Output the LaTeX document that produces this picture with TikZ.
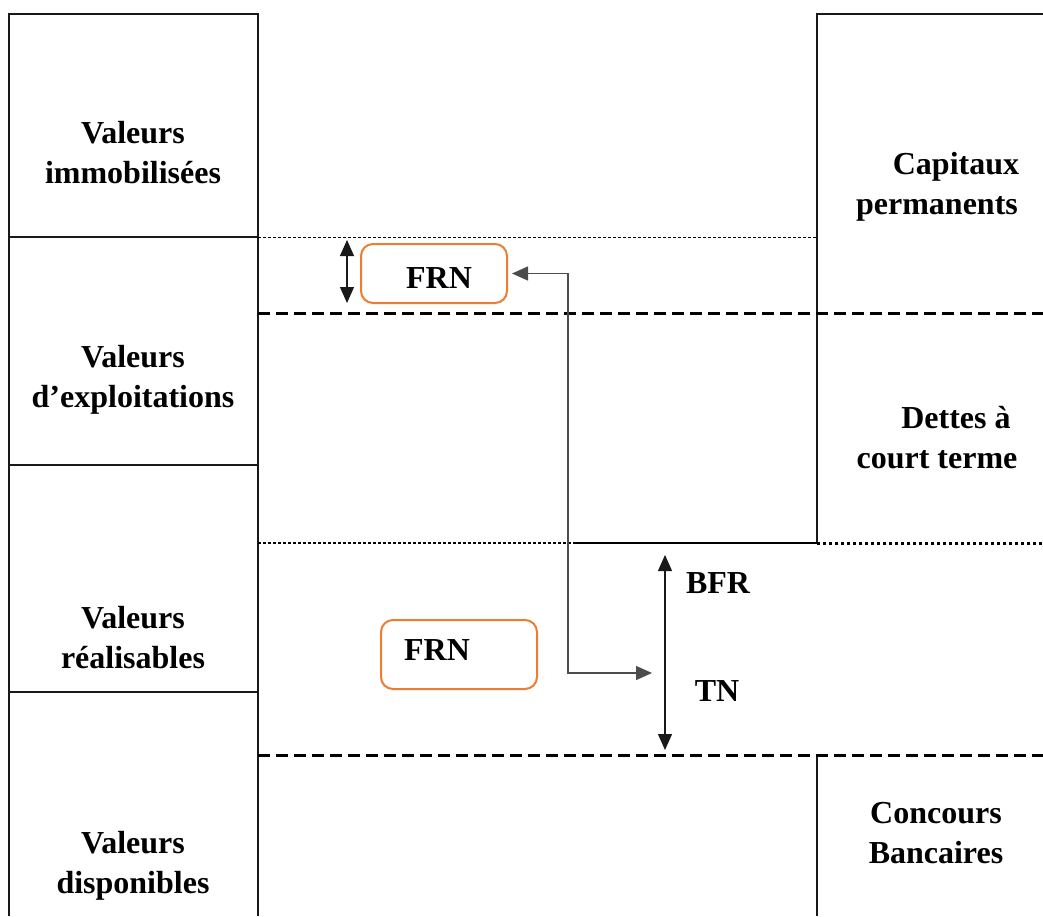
\documentclass[tikz,border=0pt]{standalone}
\usepackage{fontspec}
\setmainfont{Liberation Serif}
\usetikzlibrary{arrows.meta}
\definecolor{frnorange}{HTML}{ED7D31}

\begin{document}
\begin{tikzpicture}[x=0.5pt, y=-0.5pt,
    every node/.style={font=\bfseries\fontsize{16}{20}\selectfont, align=center},
    frame/.style={line width=1pt, black!90},
    thinsep/.style={line width=0.5pt, dash pattern=on 1.5pt off 1pt},
    bigsep/.style={line width=1.5pt, dash pattern=on 6pt off 3pt},
    dotsep/.style={line width=1.5pt, dash pattern=on 1.5pt off 1.5pt},
    frnbox/.style={draw=frnorange, line width=1pt, rounded corners=6pt, inner sep=0pt},
    dblarrow/.style={line width=0.6pt, black!90, {Triangle[length=8pt,width=7pt]}-{Triangle[length=8pt,width=7pt]}},
    link/.style={line width=0.6pt, black!70, {Triangle[length=8pt,width=7pt]}-{Triangle[length=8pt,width=7pt]}}]
    \useasboundingbox (0,0) rectangle (1043,916);

    % Actif (left column)
    \draw[frame] (9,916) -- (9,14) -- (258,14) -- (258,916);
    \draw[frame] (9,237) -- (258,237);
    \draw[frame] (9,465) -- (258,465);
    \draw[frame] (9,692) -- (258,692);

    % Passif (right column)
    \draw[frame] (1043,14) -- (817,14) -- (817,543);
    \draw[frame] (817,755) -- (817,916);

    % Separating lines
    \draw[thinsep] (258,237) -- (817,237);
    \draw[bigsep] (258,313) -- (1043,313);
    \draw[thinsep, line width=0.8pt] (258,543) -- (575,543);
    \draw[line width=1.2pt] (575,543) -- (817,543);
    \draw[dotsep] (817,543) -- (1043,543);
    \draw[bigsep] (258,755) -- (1043,755);

    % Labels of the left column
    \node (vi) at (133,153) {Valeurs\\immobilis\'ees};
    \node (ve) at (133,380) {Valeurs\\d’exploitations};
    \node (vr) at (133,638) {Valeurs\\r\'ealisables};
    \node (vd) at (133,866) {Valeurs\\disponibles};

    % Labels of the right column
    \node (cp) at (937,187) {\hspace*{19pt}Capitaux\\permanents};
    \node (dct) at (937,438) {\hspace*{19pt}Dettes \`a\\court terme};
    \node (cb) at (936,833) {Concours\\Bancaires};

    % FRN boxes
    \node[frnbox, minimum width=73pt, minimum height=29.5pt] (frnA) at (434,273.5) {};
    \node (frnAtxt) at (439,278) {FRN};
    \node[frnbox, minimum width=78pt, minimum height=34.5pt] (frnB) at (459,654.5) {};
    \node (frnBtxt) at (437,650) {FRN};

    % BFR and TN
    \node (bfr) at (718,583) {BFR};
    \node (tn) at (717,691) {TN};

    % Arrows
    \coordinate (frnTop) at (347,240);
    \coordinate (frnBot) at (347,303);
    \draw[dblarrow] (frnTop) -- (frnBot);
    \coordinate (bfrTop) at (665,555);
    \coordinate (tnBot) at (665,750);
    \draw[dblarrow] (bfrTop) -- (tnBot);
    \coordinate (tnIn) at (652,673);
    \coordinate (turn) at (568,673);
    \draw[link] (frnA.east) ++(4,0) -| (turn) -- (tnIn);
\end{tikzpicture}
\end{document}
